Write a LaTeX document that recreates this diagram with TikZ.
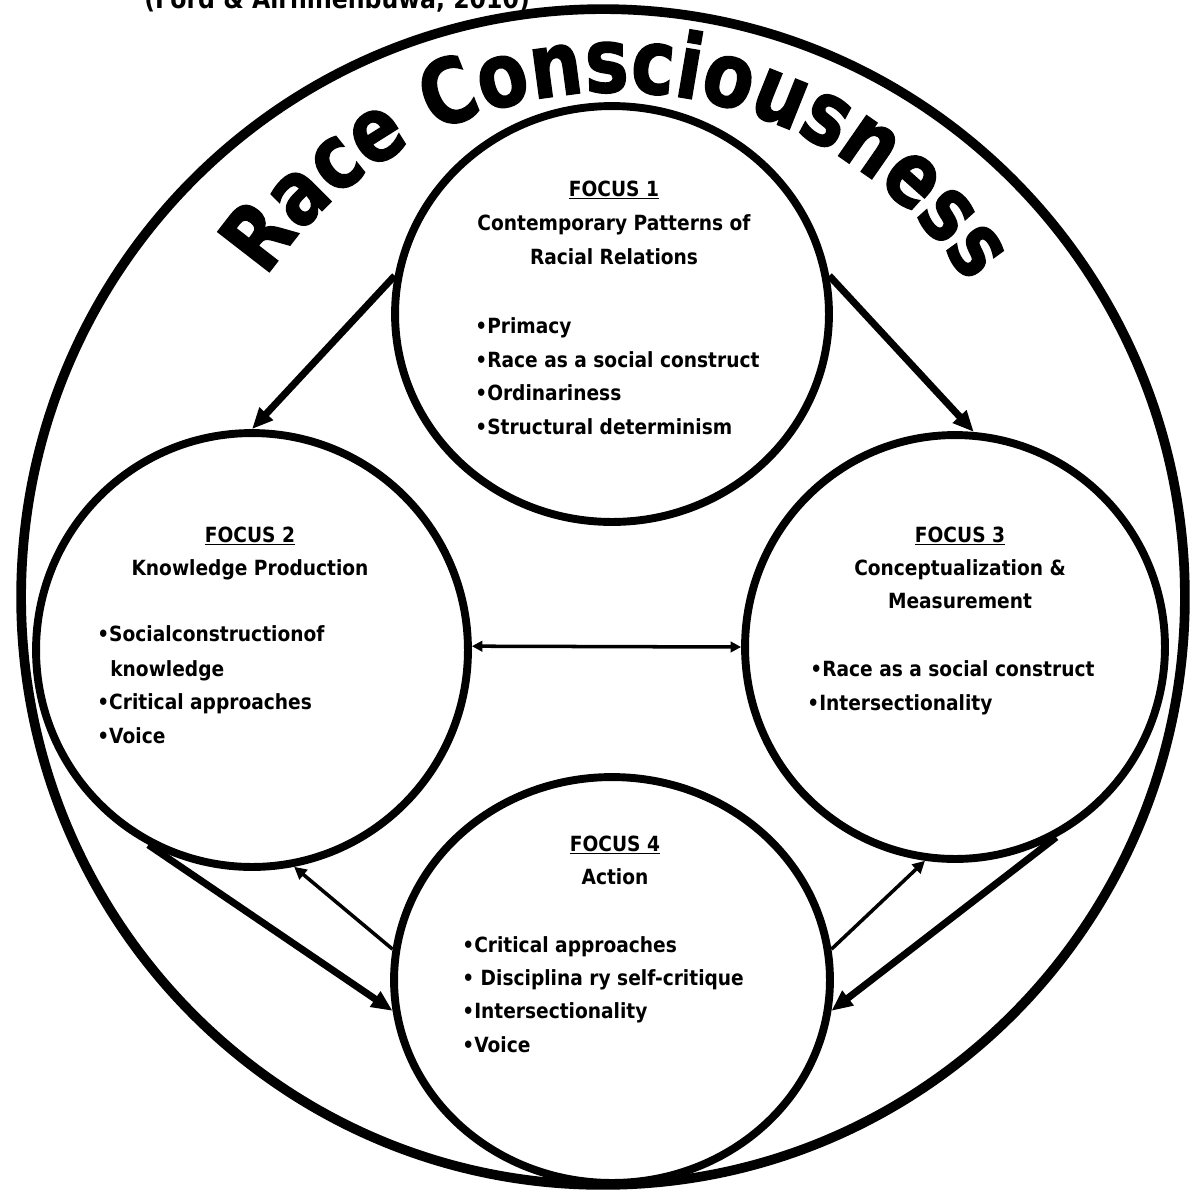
\documentclass[tikz,border=0pt]{standalone}
\usepackage{fontspec}
\setmainfont{DejaVu Sans}[FakeStretch=0.89]
\newfontfamily\racefont{DejaVu Sans}[FakeStretch=0.82, BoldFeatures={FakeBold=1.5}]
\usetikzlibrary{shapes.geometric,arrows.meta,decorations.text}
\newcommand\racestyle{\racefont\bfseries\fontsize{51}{51}\selectfont}
\begin{document}
\begin{tikzpicture}[x=0.02cm,y=0.02cm,
  focus/.style={ellipse, draw, line width=4.5pt, inner sep=0pt},
  txt/.style={font=\bfseries\fontsize{11.9}{14}\selectfont, inner sep=0pt},
  head/.style={txt, anchor=base},
  item/.style={txt, anchor=base west},
  thickarrow/.style={line width=4pt, -{Triangle[length=12pt,width=10pt]}},
  thinarrow/.style={line width=2pt, -{Triangle[length=7pt,width=7pt]}},
  botharrow/.style={line width=2pt, {Triangle[length=6pt,width=6pt]}-{Triangle[length=6pt,width=6pt]}},
]
\useasboundingbox (0,0) rectangle (1195,-1194);

% frame
\node[ellipse, draw, line width=5.5pt, minimum width=23.28cm, minimum height=23.52cm, inner sep=0pt] (outer) at (603,-597) {};

% focus circles
\node[focus, minimum width=8.68cm, minimum height=8.32cm] (f1) at (612,-314) {};
\node[focus, minimum width=8.64cm, minimum height=8.68cm] (f2) at (252,-650) {};
\node[focus, minimum width=8.40cm, minimum height=8.48cm] (f3) at (955,-647) {};
\node[focus, minimum width=8.72cm, minimum height=8.12cm] (f4) at (612,-980) {};

% connectors
\draw[thickarrow] (f1.170) -- (f2.90);
\draw[thickarrow] (f1.10) -- (f3.85);
\draw[botharrow] (f2.1) -- (f3.180);
\draw[thinarrow] (f4.172) -- (f2.281);
\draw[thickarrow] (f2.242) -- (f4.188);
\draw[thinarrow] (f4.8) -- (f3.262);
\draw[thickarrow] (f3.298) -- (f4.352);

% curved title
\coordinate (tc) at (615,-513);
\path (tc) ++(150:8.42cm) coordinate (ts);
\path[decorate, decoration={text along path, text={|\racestyle|Race Consciousness}, text align=center}]
  (ts) arc[start angle=150, end angle=29, radius=8.42cm];

% citation (cut at top)
\node[anchor=base west, font=\bfseries\fontsize{15.1}{18}\selectfont, inner sep=0pt] (cite) at (144,-8) {(Ford \& Airhihenbuwa, 2010)};

% Focus 1
\node[head] (f1h) at (614,-196) {\underline{FOCUS 1}};
\node[head] (f1a) at (614,-230) {Contemporary Patterns of};
\node[head] (f1b) at (614,-264) {Racial Relations};
\node[item] (f1i1) at (475,-333) {•Primacy};
\node[item] (f1i2) at (475,-367) {•Race as a social construct};
\node[item] (f1i3) at (475,-400) {•Ordinariness};
\node[item] (f1i4) at (475,-434) {•Structural determinism};

% Focus 2
\node[head] (f2h) at (250,-542) {\underline{FOCUS 2}};
\node[head] (f2a) at (250,-575) {Knowledge Production};
\node[item] (f2i1) at (97,-641) {•Socialconstructionof};
\node[item] (f2i1b) at (110,-676) {knowledge};
\node[item] (f2i2) at (97,-709) {•Critical approaches};
\node[item] (f2i3) at (97,-743) {•Voice};

% Focus 3
\node[head] (f3h) at (960,-542) {\underline{FOCUS 3}};
\node[head] (f3a) at (960,-575) {Conceptualization \&};
\node[head] (f3b) at (960,-608) {Measurement};
\node[item] (f3i1) at (810,-676) {•Race as a social construct};
\node[item] (f3i2) at (807,-710) {•Intersectionality};

% Focus 4
\node[head] (f4h) at (615,-851) {\underline{FOCUS 4}};
\node[head] (f4a) at (615,-884) {Action};
\node[item] (f4i1) at (462,-952) {•Critical approaches};
\node[item] (f4i2) at (462,-985) {• Disciplina ry self-critique};
\node[item] (f4i3) at (462,-1018) {•Intersectionality};
\node[item] (f4i4) at (462,-1052) {•Voice};
\end{tikzpicture}
\end{document}
